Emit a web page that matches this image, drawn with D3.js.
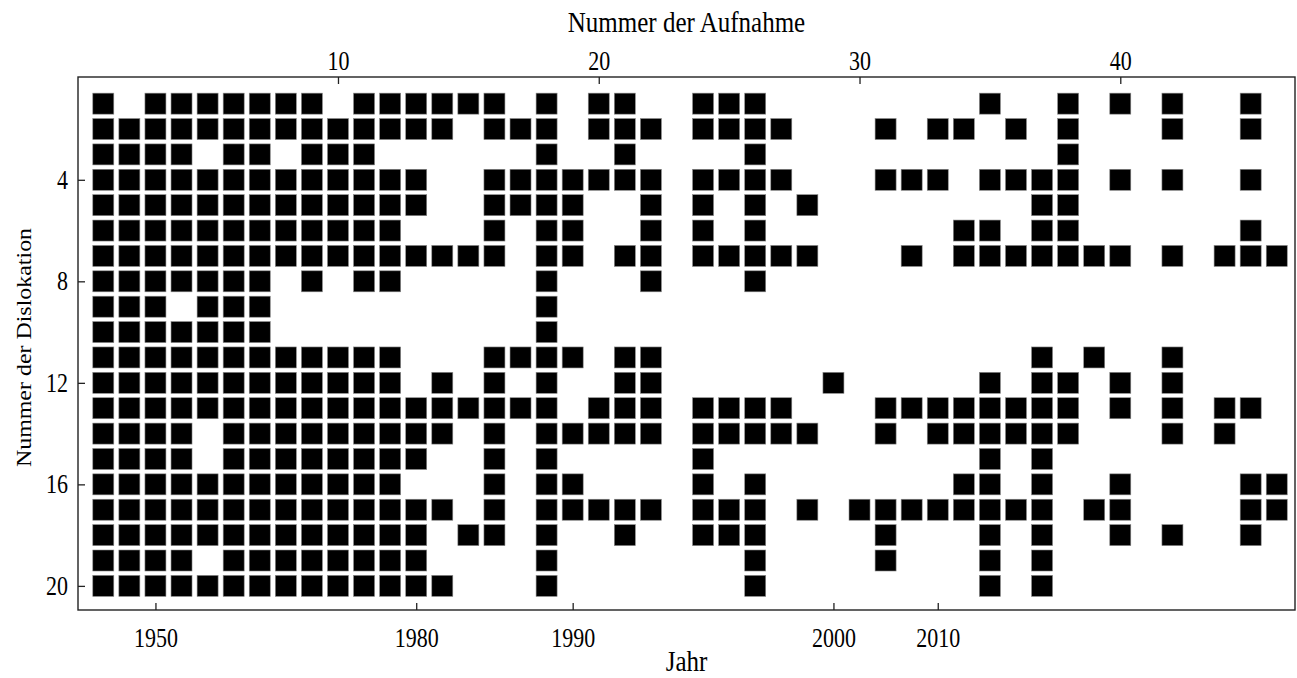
<!DOCTYPE html>
<html>
<head>
<meta charset="utf-8">
<script src="https://cdn.jsdelivr.net/npm/d3@7"></script>
<style>
  body { margin: 0; background: #fff; }
  svg { display: block; }
  text { font-family: "Liberation Serif", "Times New Roman", serif; fill: #000; }
</style>
</head>
<body>
<div id="chart"></div>
<script>
// Aufnahmen (columns) and Dislokationen (rows)
const records = [1,2,3,4,5,6,7,8,9,10,11,12,13,14,15,16,17,18,19,20,21,22,23,
  24,25,26,27,28,29,30,31,32,33,34,35,36,37,38,39,40,41,42,43,44,45,46];
const dislocations = [1,2,3,4,5,6,7,8,9,10,11,12,13,14,15,16,17,18,19,20];

// for every dislocation: numbers of the records where it is present
const seenIn = [
  [1,3,4,5,6,7,8,9,11,12,13,14,15,16,18,20,21,24,25,26,35,38,40,42,45],
  [1,2,3,4,5,6,7,8,9,10,11,12,13,14,16,17,18,20,21,22,24,25,26,27,31,33,34,36,38,42,45],
  [1,2,3,4,6,7,9,10,11,18,21,26,38],
  [1,2,3,4,5,6,7,8,9,10,11,12,13,16,17,18,19,20,21,22,24,25,26,27,31,32,33,35,36,37,38,40,42,45],
  [1,2,3,4,5,6,7,8,9,10,11,12,13,16,17,18,19,22,24,26,28,37,38],
  [1,2,3,4,5,6,7,8,9,10,11,12,16,18,19,22,24,26,34,35,37,38,45],
  [1,2,3,4,5,6,7,8,9,10,11,12,13,14,15,16,18,19,21,22,24,25,26,27,28,32,34,35,36,37,38,39,40,42,44,45,46],
  [1,2,3,4,5,6,7,9,11,12,18,22,26],
  [1,2,3,5,6,7,18],
  [1,2,3,4,5,6,7,18],
  [1,2,3,4,5,6,7,8,9,10,11,12,16,17,18,19,21,22,37,39,42],
  [1,2,3,4,5,6,7,8,9,10,11,12,14,16,18,21,22,29,35,37,38,40,42],
  [1,2,3,4,5,6,7,8,9,10,11,12,13,14,15,16,17,18,20,21,22,24,25,26,27,31,32,33,34,35,36,37,38,40,42,44,45],
  [1,2,3,4,6,7,8,9,10,11,12,13,14,16,18,19,20,21,22,24,25,26,27,28,31,33,34,35,36,37,38,42,44],
  [1,2,3,4,6,7,8,9,10,11,12,13,16,18,24,35,37],
  [1,2,3,4,5,6,7,8,9,10,11,12,16,18,19,24,26,34,35,37,40,45,46],
  [1,2,3,4,5,6,7,8,9,10,11,12,13,14,16,18,19,20,21,22,24,25,26,28,30,31,32,33,34,35,36,37,39,40,45,46],
  [1,2,3,4,5,6,7,8,9,10,11,12,13,15,16,18,21,24,25,26,31,35,37,40,42,45],
  [1,2,3,4,6,7,8,9,10,11,12,13,18,26,31,35,37],
  [1,2,3,4,5,6,7,8,9,10,11,12,13,14,18,26,35,37]
];

const recordTicks = [10, 20, 30, 40];
const dislocationTicks = [4, 8, 12, 16, 20];
const yearTicks = [1950, 1980, 1990, 2000, 2010];
const yearTickRecords = [3, 13, 19, 29, 33];

const width = 1297, height = 678;
const box = { left: 78, right: 1295, top: 77, bottom: 610 };
const cell = 21;
const stretch = 1.2;   // the lettering in the original is drawn a bit taller than wide

const x = d3.scaleLinear().domain([0.03, 46.7]).range([box.left, box.right]);
const y = d3.scaleLinear().domain([-0.05, 20.95]).range([box.top, box.bottom]);

const svg = d3.select('#chart').append('svg')
  .attr('width', width)
  .attr('height', height);

const cells = [];
seenIn.forEach((recs, i) => recs.forEach(r => cells.push({ d: dislocations[i], r: r })));

svg.append('g')
  .selectAll('rect')
  .data(cells)
  .enter()
  .append('rect')
  .attr('x', c => x(c.r) - cell / 2)
  .attr('y', c => y(c.d) - cell / 2)
  .attr('width', cell)
  .attr('height', cell)
  .attr('fill', '#000')
  .attr('stroke', '#8a8a8a')
  .attr('stroke-width', 0.6);

// axes, ticks pointing inwards
const yearOf = new Map(yearTickRecords.map((r, i) => [r, yearTicks[i]]));

const topAxis = d3.axisTop(x).tickValues(recordTicks).tickSize(-7).tickPadding(6);
const bottomAxis = d3.axisBottom(x).tickValues(yearTickRecords)
  .tickFormat(r => yearOf.get(r)).tickSize(-7).tickPadding(15);
const leftAxis = d3.axisLeft(y).tickValues(dislocationTicks).tickSize(-7).tickPadding(10);

function styleAxis(g) {
  g.select('.domain').remove();
  g.selectAll('line').attr('stroke', '#222').attr('stroke-width', 1.3);
  g.selectAll('text')
    .attr('font-size', 22)
    .attr('font-family', '"Liberation Serif", serif')
    .attr('transform', `scale(1,${stretch})`);
}

svg.append('g').attr('transform', `translate(0,${box.top})`).call(topAxis).call(styleAxis);
svg.append('g').attr('transform', `translate(0,${box.bottom})`).call(bottomAxis).call(styleAxis);
svg.append('g').attr('transform', `translate(${box.left},0)`).call(leftAxis).call(styleAxis);

svg.append('rect')
  .attr('x', box.left)
  .attr('y', box.top)
  .attr('width', box.right - box.left)
  .attr('height', box.bottom - box.top)
  .attr('fill', 'none')
  .attr('stroke', '#222')
  .attr('stroke-width', 1.4);

const midX = (box.left + box.right) / 2;

svg.append('text')
  .attr('transform', `translate(${midX},32) scale(1,${stretch})`)
  .attr('text-anchor', 'middle')
  .attr('font-size', 25)
  .text('Nummer der Aufnahme');

svg.append('text')
  .attr('transform', `translate(${midX},671) scale(1,${stretch})`)
  .attr('text-anchor', 'middle')
  .attr('font-size', 25)
  .text('Jahr');

svg.append('text')
  .attr('transform', `translate(31,${(box.top + box.bottom) / 2 + 4}) rotate(-90) scale(1.14,1)`)
  .attr('text-anchor', 'middle')
  .attr('font-size', 21)
  .text('Nummer der Dislokation');
</script>
</body>
</html>
